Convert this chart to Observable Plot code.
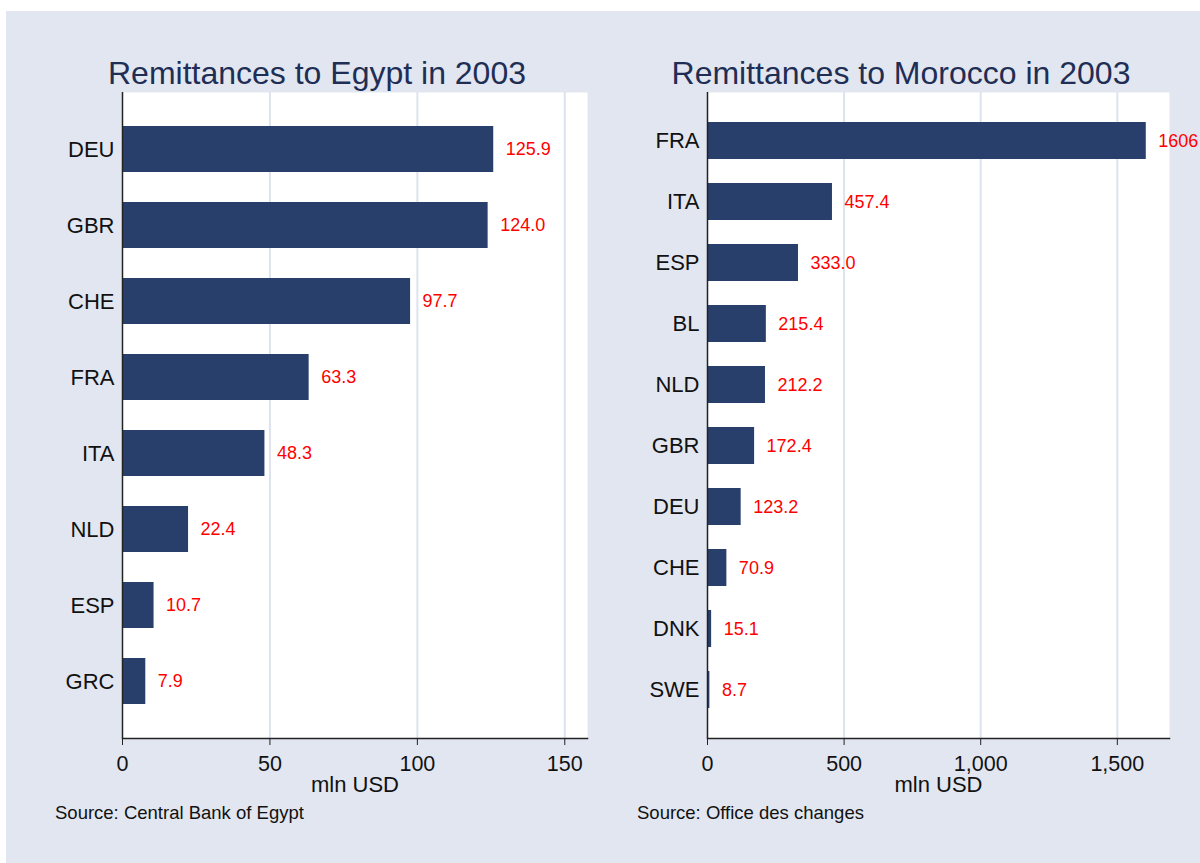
<!DOCTYPE html>
<html>
<head>
<meta charset="utf-8">
<script src="https://cdn.jsdelivr.net/npm/d3@7"></script>
<script src="https://cdn.jsdelivr.net/npm/@observablehq/plot@0.6"></script>
<style>
  body { margin: 0; background: white; font-family: "Liberation Sans", Arial, sans-serif; }
  #page { position: relative; width: 1200px; height: 863px; overflow: hidden; background: white; }
  #bg { position: absolute; left: 6px; top: 11px; right: 0; bottom: 0; background: #e1e6f0; }
  .panel { position: absolute; top: 0; }
  .title { position: absolute; top: 57px; font-size: 32px; line-height: 32px; color: #1e2e55; text-align: center; white-space: nowrap; }
  .source { position: absolute; top: 804px; font-size: 18.5px; line-height: 18px; color: #111; white-space: nowrap; }
</style>
</head>
<body>
<div id="page">
  <div id="bg"></div>
  <div id="left" class="panel" style="left:0px"></div>
  <div id="right" class="panel" style="left:600px"></div>
  <div class="title" style="left:0px;width:634px">Remittances to Egypt in 2003</div>
  <div class="title" style="left:602px;width:598px">Remittances to Morocco in 2003</div>
  <div class="source" style="left:55px">Source: Central Bank of Egypt</div>
  <div class="source" style="left:637px">Source: Office des changes</div>
</div>
<script>
// Egypt
const egyptCountries = ["DEU", "GBR", "CHE", "FRA", "ITA", "NLD", "ESP", "GRC"];
const egyptValues = [125.9, 124.0, 97.7, 63.3, 48.3, 22.4, 10.7, 7.9];
const egyptLabels = ["125.9", "124.0", "97.7", "63.3", "48.3", "22.4", "10.7", "7.9"];
const egyptTicks = [0, 50, 100, 150];

// Morocco
const moroccoCountries = ["FRA", "ITA", "ESP", "BL", "NLD", "GBR", "DEU", "CHE", "DNK", "SWE"];
const moroccoValues = [1606, 457.4, 333.0, 215.4, 212.2, 172.4, 123.2, 70.9, 15.1, 8.7];
const moroccoLabels = ["1606", "457.4", "333.0", "215.4", "212.2", "172.4", "123.2", "70.9", "15.1", "8.7"];
const moroccoTicks = [0, 500, 1000, 1500];

const axisLabel = "mln USD";
const barColor = "#283f6c";
const labelColor = "#ff0000";
const gridColor = "#dde3ee";
const lineColor = "#222222";

function panel({countries, values, labels, ticks, fmt, xmax, width, marginLeft, marginRight, paddingOuter}) {
  const data = countries.map((c, i) => ({country: c, value: values[i], label: labels[i]}));
  return Plot.plot({
    width,
    height: 863,
    marginTop: 92,
    marginBottom: 125,
    marginLeft,
    marginRight,
    style: {background: "transparent", fontFamily: "'Liberation Sans', Arial, sans-serif", overflow: "visible", color: "#111"},
    x: {domain: [0, xmax]},
    y: {domain: countries, paddingInner: 0.4, paddingOuter},
    marks: [
      Plot.frame({fill: "white", stroke: null}),
      Plot.gridX(ticks.slice(1), {stroke: gridColor, strokeWidth: 2, strokeOpacity: 1}),
      Plot.barX(data, {x: "value", y: "country", fill: barColor}),
      Plot.text(data, {x: "value", y: "country", text: "label", dx: 12, textAnchor: "start", fill: labelColor, fontSize: 18}),
      Plot.axisY({tickSize: 0, tickPadding: 8, fontSize: 22, label: null}),
      Plot.axisX(ticks, {tickSize: 7, tickPadding: 10, fontSize: 21.5, tickFormat: fmt, label: null, stroke: lineColor}),
      Plot.ruleX([0], {stroke: lineColor, strokeWidth: 1.5}),
      Plot.frame({anchor: "bottom", stroke: lineColor, strokeWidth: 1.5}),
      Plot.text([axisLabel], {frameAnchor: "bottom", dy: 53, fontSize: 22, textAnchor: "middle", fill: "#111"})
    ]
  });
}

document.getElementById("left").appendChild(panel({
  countries: egyptCountries, values: egyptValues, labels: egyptLabels, ticks: egyptTicks,
  fmt: d3.format(","), xmax: 157.7, width: 600, marginLeft: 122, marginRight: 13, paddingOuter: 0.42
}));
document.getElementById("right").appendChild(panel({
  countries: moroccoCountries, values: moroccoValues, labels: moroccoLabels, ticks: moroccoTicks,
  fmt: d3.format(","), xmax: 1691, width: 600, marginLeft: 107, marginRight: 31, paddingOuter: 0.495
}));
</script>
</body>
</html>
